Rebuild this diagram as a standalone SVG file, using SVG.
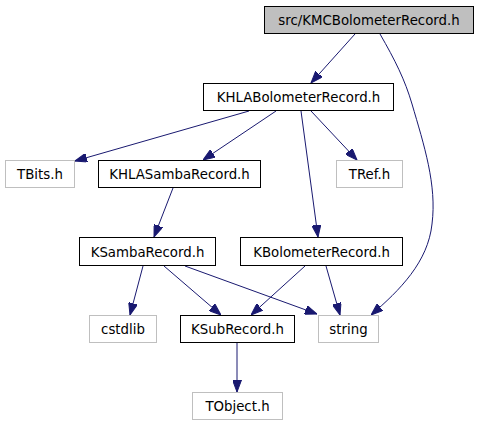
<svg xmlns="http://www.w3.org/2000/svg" width="479" height="427" viewBox="0 0 479 427">
<style>
.n rect{fill:#fff;stroke:#000;stroke-width:1}
.n.ext rect{stroke:#bfbfbf}
.n.root rect{fill:#bfbfbf}
.n text{font-family:"DejaVu Sans",sans-serif;font-size:13.33px;text-anchor:middle;fill:#000}
.e path{fill:none;stroke:#191970;stroke-width:1}
</style>
<defs>
<marker id="ah" viewBox="0 0 12 9" refX="12" refY="4.5" markerWidth="12" markerHeight="9" markerUnits="userSpaceOnUse" orient="auto">
<polygon points="0,0 12,4.5 0,9" fill="#191970" stroke="#191970"/>
</marker>
</defs>
<rect width="479" height="427" fill="#fff"/>
<g id="edges" class="e">
<path marker-end="url(#ah)" d="M355,34 L311,83"/>
<path marker-end="url(#ah)" d="M380,34 C395,60 405,80 412,104 C424,145 437,185 432,224 C428,262 400,290 371,315"/>
<path marker-end="url(#ah)" d="M249,111 L75,161"/>
<path marker-end="url(#ah)" d="M276,111 L203,160"/>
<path marker-end="url(#ah)" d="M301,111 L318,237"/>
<path marker-end="url(#ah)" d="M311,111 L357,160"/>
<path marker-end="url(#ah)" d="M173,188 L154,237"/>
<path marker-end="url(#ah)" d="M143,266 L130,315"/>
<path marker-end="url(#ah)" d="M164,266 L221,315"/>
<path marker-end="url(#ah)" d="M185,266 L317,314"/>
<path marker-end="url(#ah)" d="M305,266 L251,315"/>
<path marker-end="url(#ah)" d="M326,266 L340,315"/>
<path marker-end="url(#ah)" d="M237,343 L237,392"/>
</g>
<g id="n_root" class="n root"><rect x="264.5" y="6.5" width="209" height="27"/><text x="369" y="25">src/KMCBolometerRecord.h</text></g>
<g id="n_khlabolo" class="n"><rect x="203.5" y="83.5" width="190" height="27"/><text x="298.5" y="102">KHLABolometerRecord.h</text></g>
<g id="n_tbits" class="n ext"><rect x="5.5" y="160.5" width="69" height="27"/><text x="40" y="179">TBits.h</text></g>
<g id="n_khlasamba" class="n"><rect x="98.5" y="160.5" width="162" height="27"/><text x="179.5" y="179">KHLASambaRecord.h</text></g>
<g id="n_tref" class="n ext"><rect x="336.5" y="160.5" width="66" height="27"/><text x="369.5" y="179">TRef.h</text></g>
<g id="n_ksamba" class="n"><rect x="79.5" y="237.5" width="136" height="28"/><text x="147.5" y="256.5">KSambaRecord.h</text></g>
<g id="n_kbolo" class="n"><rect x="240.5" y="237.5" width="162" height="28"/><text x="321.5" y="256.5">KBolometerRecord.h</text></g>
<g id="n_cstdlib" class="n ext"><rect x="89.5" y="315.5" width="67" height="27"/><text x="123" y="334">cstdlib</text></g>
<g id="n_ksub" class="n"><rect x="180.5" y="315.5" width="114" height="27"/><text x="237.5" y="334">KSubRecord.h</text></g>
<g id="n_string" class="n ext"><rect x="318.5" y="315.5" width="60" height="27"/><text x="348.5" y="334">string</text></g>
<g id="n_tobject" class="n ext"><rect x="192.5" y="392.5" width="90" height="27"/><text x="237.5" y="411">TObject.h</text></g>
</svg>
